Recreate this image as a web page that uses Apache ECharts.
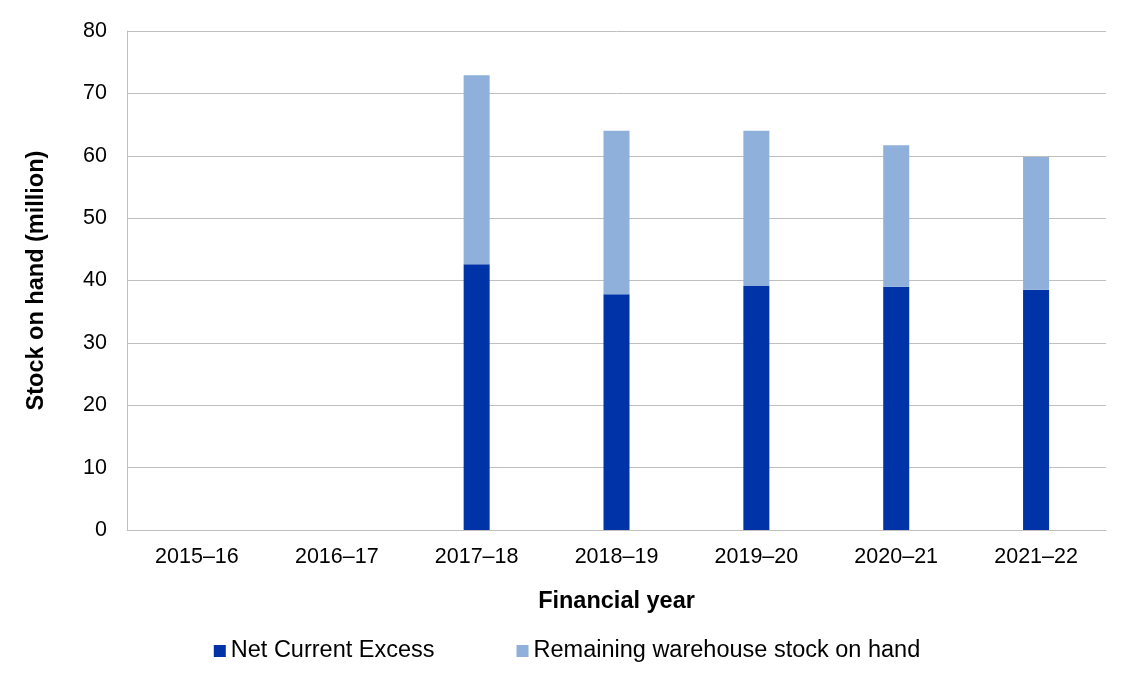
<!DOCTYPE html>
<html><head><meta charset="utf-8">
<script src="https://cdn.jsdelivr.net/npm/echarts@6/dist/echarts.min.js"></script>
<style>html,body{margin:0;background:#fff}#c{width:1134px;height:692px}</style>
</head><body><div id="c"></div>
<script>
const categories = ['2015–16','2016–17','2017–18','2018–19','2019–20','2020–21','2021–22'];
const netCurrentExcess = [null,null,42.6,37.8,39.1,39.0,38.5];
const remainingStock = [null,null,30.3,26.2,24.9,22.7,21.3];
const chart = echarts.init(document.getElementById('c'));
const font = 'Liberation Sans, Arial, sans-serif';
chart.setOption({
  animation:false,
  textStyle:{fontFamily:font},
  grid:{left:127,right:28,top:31,bottom:162},
  legend:{bottom:24,left:'center',itemGap:82,itemWidth:12,itemHeight:12,icon:'rect',
    textStyle:{fontSize:23.5,color:'#000',fontFamily:font},
    data:['Net Current Excess','Remaining warehouse stock on hand']},
  xAxis:{type:'category',data:categories,name:'Financial year',nameLocation:'middle',nameGap:60,
    nameTextStyle:{fontSize:23.5,fontWeight:'bold',color:'#000'},
    axisTick:{show:false},axisLine:{lineStyle:{color:'#bfbfbf'}},
    axisLabel:{fontSize:21.5,color:'#000',margin:16}},
  yAxis:{type:'value',min:0,max:80,interval:10,name:'Stock on hand (million)',nameLocation:'middle',nameGap:78,
    nameTextStyle:{fontSize:23.5,fontWeight:'bold',color:'#000'},
    axisLine:{show:true,lineStyle:{color:'#bfbfbf'}},
    splitLine:{lineStyle:{color:'#bfbfbf'}},
    axisLabel:{fontSize:21.5,color:'#000',margin:20}},
  series:[
    {name:'Net Current Excess',type:'bar',stack:'s',barWidth:26,data:netCurrentExcess,itemStyle:{color:'#0033A8'}},
    {name:'Remaining warehouse stock on hand',type:'bar',stack:'s',barWidth:26,data:remainingStock,itemStyle:{color:'#8EB0DA'}}
  ]
});
</script></body></html>
